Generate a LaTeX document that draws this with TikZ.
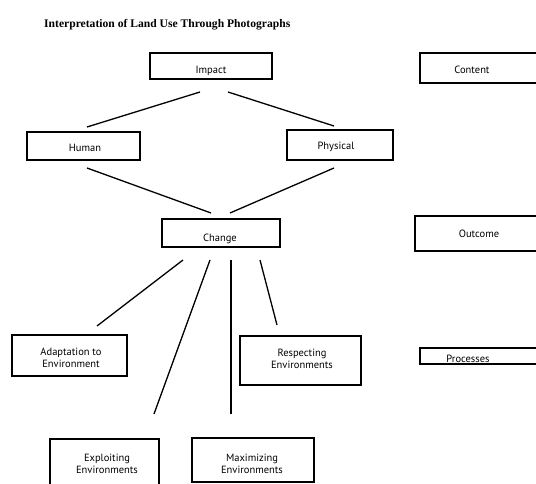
\documentclass[tikz,border=0pt]{standalone}
\usepackage{fontspec}
\setmainfont{PT Sans}
\newfontfamily\titlefont{Liberation Serif}
\begin{document}
\begin{tikzpicture}[x=1pt,y=-1pt,
  box/.style={draw, line width=1.3pt, rectangle, inner sep=0pt},
  lbl/.style={font=\fontsize{10.5}{12}\selectfont, align=center, inner sep=0pt},
  conn/.style={line width=1.3pt}]
\useasboundingbox (0,0) rectangle (536,484);
\clip (0,0) rectangle (536,484);
\node[anchor=west, font=\titlefont\bfseries\fontsize{11.6}{13}\selectfont, inner sep=0pt] (title) at (44,25) {Interpretation of Land Use Through Photographs};
% boxes
\node[box, minimum width=122, minimum height=26] (impact) at (211,66) {};
\node[lbl] (impactT) at (211,71) {Impact};
\node[box, minimum width=120, minimum height=30] (content) at (480,68) {};
\node[lbl] (contentT) at (472,70) {Content};
\node[box, minimum width=113, minimum height=28] (human) at (83.5,146) {};
\node[lbl] (humanT) at (85,148) {Human};
\node[box, minimum width=106, minimum height=30] (physical) at (340,145) {};
\node[lbl] (physicalT) at (336,147) {Physical};
\node[box, minimum width=118, minimum height=28] (change) at (221,233) {};
\node[lbl] (changeT) at (220,239) {Change};
\node[box, minimum width=125, minimum height=35] (outcome) at (477.5,233.5) {};
\node[lbl] (outcomeT) at (479,234) {Outcome};
\node[box, minimum width=115, minimum height=41] (adapt) at (69.5,355.5) {};
\node[lbl] (adaptT) at (71,358) {Adaptation to\\Environment};
\node[box, minimum width=121, minimum height=49] (respect) at (300.5,360.5) {};
\node[lbl] (respectT) at (302,359) {Respecting\\Environments};
\node[box, minimum width=120, minimum height=16] (process) at (480,356) {};
\node[lbl] (processT) at (468,359) {Processes};
\node[box, minimum width=109, minimum height=52] (exploit) at (104.5,465) {};
\node[lbl] (exploitT) at (107,464) {Exploiting\\Environments};
\node[box, minimum width=122, minimum height=44] (maxim) at (253,460) {};
\node[lbl] (maximT) at (252,464) {Maximizing\\Environments};
% connector end points
\coordinate (a1) at (200,92);  \coordinate (a2) at (87,127);
\coordinate (b1) at (228,92);  \coordinate (b2) at (334,126);
\coordinate (c1) at (87,168);  \coordinate (c2) at (211,213);
\coordinate (d1) at (334,168); \coordinate (d2) at (230,213);
\coordinate (e1) at (183,260); \coordinate (e2) at (97,326);
\coordinate (f1) at (210,260); \coordinate (f2) at (154,414);
\coordinate (g1) at (231,260); \coordinate (g2) at (231,414);
\coordinate (h1) at (260,260); \coordinate (h2) at (277,325);
\draw[conn] (a1) -- (a2);
\draw[conn] (b1) -- (b2);
\draw[conn] (c1) -- (c2);
\draw[conn] (d1) -- (d2);
\draw[conn] (e1) -- (e2);
\draw[conn] (f1) -- (f2);
\draw[conn] (g1) -- (g2);
\draw[conn] (h1) -- (h2);
\end{tikzpicture}
\end{document}
